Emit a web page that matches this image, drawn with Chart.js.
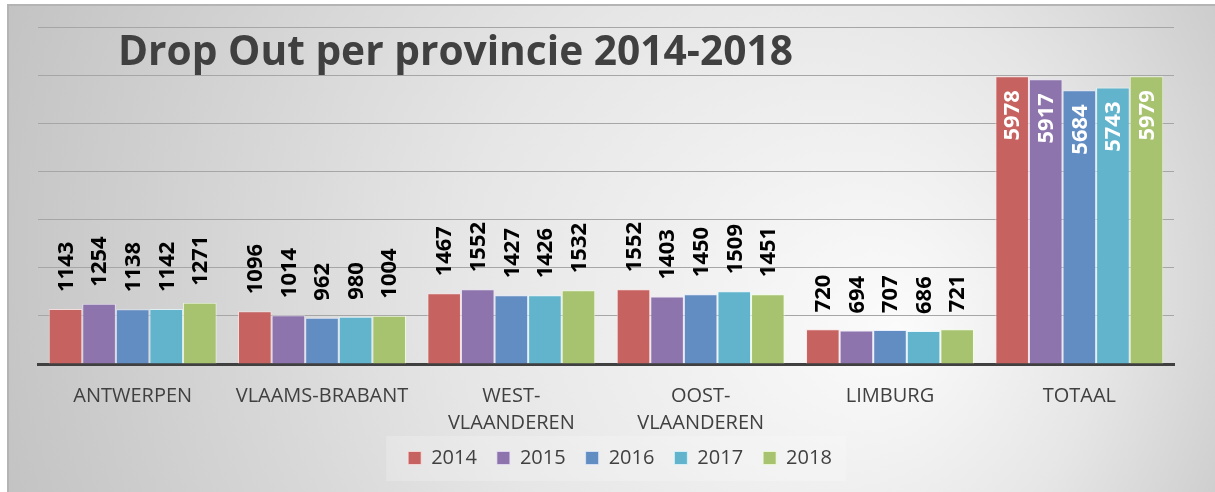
<!DOCTYPE html>
<html><head><meta charset="utf-8">
<script src="https://cdn.jsdelivr.net/npm/chart.js@4.4.1/dist/chart.umd.min.js"></script>
<style>html,body{margin:0;padding:0;background:#fff;overflow:hidden}#wrap{width:1215px;height:492px;position:relative}</style>
</head><body><div id="wrap"><canvas id="c" width="1215" height="492"></canvas></div>
<script>
const titleText = 'Drop Out per provincie 2014-2018';
const categories = [['ANTWERPEN'], ['VLAAMS-BRABANT'], ['WEST-', 'VLAANDEREN'], ['OOST-', 'VLAANDEREN'], ['LIMBURG'], ['TOTAAL']];
const years = ['2014', '2015', '2016', '2017', '2018'];
const v2014 = [1143, 1096, 1467, 1552, 720, 5978];
const v2015 = [1254, 1014, 1552, 1403, 694, 5917];
const v2016 = [1138, 962, 1427, 1450, 707, 5684];
const v2017 = [1142, 980, 1426, 1509, 686, 5743];
const v2018 = [1271, 1004, 1532, 1451, 721, 5979];
const yMin = 0, yMax = 7000, yStep = 1000;

const fills = ['#c6625f', '#8e74ac', '#628dc3', '#62b4cc', '#a8c36f'];
const edges = ['rgba(255,225,225,0.75)', 'rgba(235,225,250,0.75)', 'rgba(225,235,255,0.75)', 'rgba(225,250,255,0.75)', 'rgba(240,255,220,0.75)'];
const series = [v2014, v2015, v2016, v2017, v2018];

const shiftLegend = {
  id: 'shiftLegend',
  afterUpdate(chart) {
    const lg = chart.legend;
    if (!lg) return;
    lg.left += 14; lg.right += 14;
    lg.top -= 6; lg.bottom -= 6;
    if (lg.adjustHitBoxes) lg.adjustHitBoxes();
  }
};

const bgPlugin = {
  id: 'bg',
  beforeDraw(chart) {
    const ctx = chart.ctx;
    ctx.save();
    ctx.fillStyle = '#ffffff';
    ctx.fillRect(0, 0, chart.width, chart.height);
    const g = ctx.createRadialGradient(900, 330, 0, 640, 250, 720);
    g.addColorStop(0, '#fbfbfb');
    g.addColorStop(0.45, '#e6e6e6');
    g.addColorStop(1, '#c0c0c0');
    ctx.fillStyle = g;
    ctx.fillRect(8, 4, chart.width - 8, chart.height - 4);
    ctx.strokeStyle = '#b4b4b4';
    ctx.lineWidth = 2;
    ctx.beginPath();
    ctx.moveTo(8, chart.height);
    ctx.lineTo(8, 5);
    ctx.lineTo(chart.width, 5);
    ctx.stroke();
    // legend backdrop
    const lg = chart.legend;
    if (lg && lg.legendHitBoxes && lg.legendHitBoxes.length) {
      const hb = lg.legendHitBoxes;
      const l = hb[0].left - 22, r = hb[hb.length - 1].left + hb[hb.length - 1].width + 14;
      ctx.fillStyle = 'rgba(255,255,255,0.2)';
      ctx.fillRect(l, 436, r - l, 45);
    }
    // title
    ctx.fillStyle = '#404040';
    ctx.textBaseline = 'alphabetic';
    ctx.textAlign = 'left';
    ctx.font = 'bold 100px "Open Sans"';
    const w = ctx.measureText(titleText).width;
    const size = 100 * 675 / w;
    ctx.font = 'bold ' + size.toFixed(2) + 'px "Open Sans"';
    ctx.fillText(titleText, 118, 65);
    ctx.restore();
  }
};

const labelPlugin = {
  id: 'vlabels',
  afterDatasetsDraw(chart) {
    const ctx = chart.ctx;
    ctx.save();
    ctx.font = 'bold 22px "Open Sans"';
    ctx.textBaseline = 'middle';
    chart.data.datasets.forEach((ds, di) => {
      const meta = chart.getDatasetMeta(di);
      meta.data.forEach((el, i) => {
        const val = ds.data[i];
        const inside = i === categories.length - 1;
        ctx.save();
        ctx.translate(el.x, inside ? el.y + 14 : el.y - 17);
        ctx.rotate(-Math.PI / 2);
        ctx.textAlign = inside ? 'right' : 'left';
        ctx.fillStyle = inside ? '#ffffff' : '#000000';
        ctx.fillText(String(val), 0, 1);
        ctx.restore();
      });
    });
    ctx.restore();
  }
};

new Chart(document.getElementById('c'), {
  type: 'bar',
  data: {
    labels: categories,
    datasets: years.map((y, k) => ({
      label: y,
      data: series[k],
      backgroundColor: fills[k],
      borderColor: edges[k],
      borderWidth: 1,
      categoryPercentage: 0.887,
      barPercentage: 1
    }))
  },
  options: {
    responsive: false,
    animation: false,
    devicePixelRatio: 1,
    layout: { padding: { left: 38, right: 41, top: 27, bottom: 8 } },
    plugins: {
      title: { display: false },
      tooltip: { enabled: false },
      legend: {
        position: 'bottom',
        labels: {
          boxWidth: 13, boxHeight: 13, padding: 20,
          color: '#404040',
          font: { family: '"Open Sans"', size: 20 }
        }
      }
    },
    scales: {
      x: {
        grid: { display: false, drawTicks: false },
        border: { display: true, color: '#404040', width: 3 },
        ticks: {
          color: '#404040', padding: 19, maxRotation: 0, autoSkip: false,
          font: { family: '"Open Sans"', size: 20, lineHeight: 1.35 }
        },
        afterFit(s) { s.height = 70; }
      },
      y: {
        min: yMin, max: yMax,
        ticks: { display: false, stepSize: yStep },
        grid: { color: '#a6a6a6', lineWidth: 1, drawTicks: false },
        border: { display: false },
        afterFit(s) { s.width = 0; }
      }
    }
  },
  plugins: [shiftLegend, bgPlugin, labelPlugin]
});
</script></body></html>
